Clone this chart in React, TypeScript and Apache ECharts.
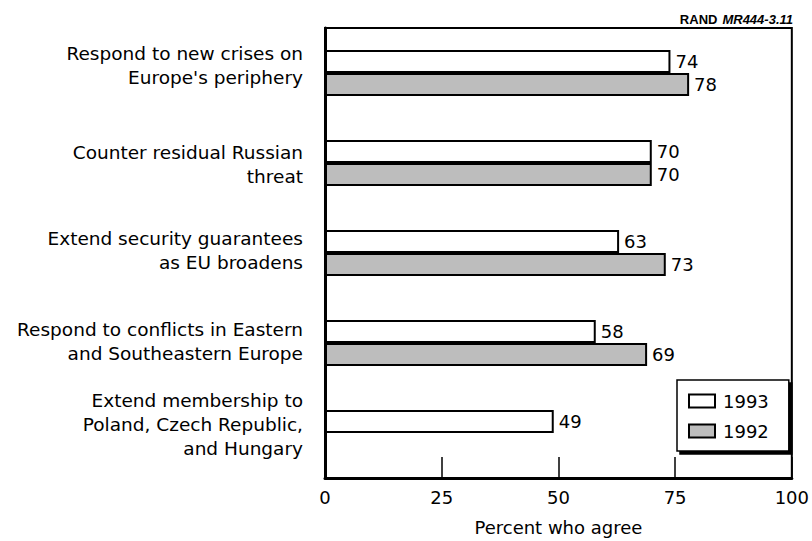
import React, { useEffect, useRef } from "react";
import * as echarts from "echarts";

const categories = [
  "Respond to new crises on\nEurope's periphery",
  "Counter residual Russian\nthreat",
  "Extend security guarantees\nas EU broadens",
  "Respond to conflicts in Eastern\nand Southeastern Europe",
  "Extend membership to\nPoland, Czech Republic,\nand Hungary",
];
const values1993 = [74, 70, 63, 58, 49];
const values1992: (number | null)[] = [78, 70, 73, 69, null];
const xTicks = [0, 25, 50, 75, 100];
const seriesNames = ["1993", "1992"];

// layout only: vertical nudge of each category label (px, negative = up)
const labelShift = [-8, 1.5, -2.5, -1.5, -9];

const FONT = "DejaVu Sans";

export default function App() {
  const ref = useRef<HTMLDivElement>(null);
  useEffect(() => {
    if (!ref.current) return;
    const chart = echarts.init(ref.current, null, { renderer: "svg" });
    const labelStyle = {
      show: true,
      position: "right" as const,
      distance: 5,
      color: "#000",
      fontFamily: FONT,
      fontSize: 18,
    };
    const spacerRich: Record<string, any> = {};
    labelShift.forEach((s, i) => {
      const h = Math.max(1, Math.round(Math.abs(s) * 2));
      spacerRich["p" + i] = { fontSize: 1, lineHeight: h, height: h };
    });
    chart.setOption({
      animation: false,
      backgroundColor: "#fff",
      title: {
        text: "{b|RAND} {i|MR444-3.11}",
        right: 19,
        top: 10,
        padding: 0,
        textStyle: {
          rich: {
            b: { fontFamily: "Liberation Sans", fontWeight: "bold", fontSize: 13, lineHeight: 15, color: "#000" },
            i: { fontFamily: "Liberation Sans", fontStyle: "italic", fontSize: 13, lineHeight: 15, color: "#000" },
          },
        },
      },
      legend: {
        orient: "vertical",
        left: 677,
        top: 380,
        padding: [12, 20, 11, 11],
        itemGap: 12,
        itemWidth: 26,
        itemHeight: 13,
        backgroundColor: "#fff",
        borderColor: "#000",
        borderWidth: 1.5,
        shadowColor: "#000",
        shadowBlur: 0,
        shadowOffsetX: 3,
        shadowOffsetY: 3,
        data: seriesNames.map((n) => ({ name: n, icon: "rect" })),
        textStyle: { color: "#000", fontFamily: FONT, fontSize: 18, padding: [0, 0, 0, 3] },
      },
      grid: {
        left: 325,
        right: 20,
        top: 28,
        bottom: 61,
        show: true,
        borderColor: "#000",
        borderWidth: 2,
        backgroundColor: "transparent",
      },
      xAxis: {
        type: "value",
        min: xTicks[0],
        max: xTicks[xTicks.length - 1],
        interval: 25,
        name: "Percent who agree",
        nameLocation: "middle",
        nameGap: 40,
        nameTextStyle: { color: "#000", fontFamily: FONT, fontSize: 18 },
        axisLine: { show: true, lineStyle: { color: "#000", width: 3 } },
        axisTick: { show: true, inside: true, length: 21, lineStyle: { color: "#000", width: 1.5 } },
        axisLabel: { color: "#000", fontFamily: FONT, fontSize: 18, margin: 10 },
        splitLine: { show: false },
      },
      yAxis: {
        type: "category",
        inverse: true,
        data: categories,
        axisLine: { show: true, lineStyle: { color: "#000", width: 3 } },
        axisTick: { show: false },
        axisLabel: {
          color: "#000",
          fontFamily: FONT,
          fontSize: 18.5,
          lineHeight: 24,
          margin: 22,
          align: "right",
          formatter: (value: string, index: number) => {
            const s = labelShift[index] || 0;
            if (Math.abs(s) < 0.5) return value;
            return s < 0 ? value + "\n{p" + index + "| }" : "{p" + index + "| }\n" + value;
          },
          rich: spacerRich,
        },
      },
      series: [
        {
          name: seriesNames[0],
          type: "bar",
          data: values1993,
          barWidth: 23,
          barGap: "0%",
          itemStyle: { color: "#fff", borderColor: "#000", borderWidth: 2 },
          label: labelStyle,
        },
        {
          name: seriesNames[1],
          type: "bar",
          data: values1992,
          barWidth: 23,
          barGap: "0%",
          itemStyle: { color: "#bdbdbd", borderColor: "#000", borderWidth: 2 },
          label: labelStyle,
        },
      ],
    });
    return () => chart.dispose();
  }, []);
  return <div ref={ref} style={{ width: 812, height: 541, position: "absolute", left: 0, top: 0 }} />;
}
